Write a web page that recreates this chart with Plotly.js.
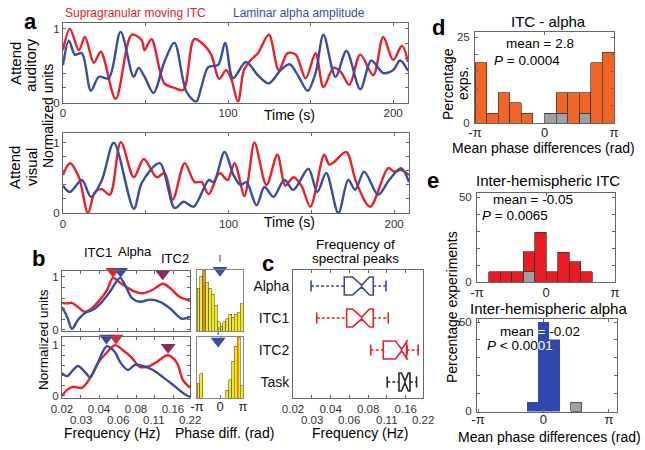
<!DOCTYPE html>
<html><head><meta charset="utf-8">
<script src="https://cdn.plot.ly/plotly-3.0.1.min.js"></script>
<style>html,body{margin:0;padding:0;background:#fff}</style>
</head><body><div id="chart" style="width:645px;height:450px"></div>
<script>
// ---------- Panel a : time series (normalized units) ----------
const aTopRedT = [0,4.2,9.6,13.3,18.7,22.9,31.9,41.6,47.6,49.4,53.6,61.4,67.5,72.9,79.5,85.5,89.8,94.6,98.8,101.8,106.0,109.6,113.9,118.1,124.7,130.7,136.1,141.0,147.0,153.0,157.8,163.9,168.1,173.5,180.1,188.0,194.0,200.0,205.4,209.0];
const aTopRed  = [0.71,1.0,0.71,0.89,0.54,0.69,0.05,0.92,0.85,0.71,0.86,0.26,0.20,0.17,0.86,0.78,0.65,0.32,0.44,0.33,0.01,0.44,0.58,0.67,0.92,0.44,0.67,0.65,0.33,0.67,0.21,0.47,0.42,0.24,0.65,0.37,0.89,0.58,0.77,0.55];
const aTopBlueT = [0,3.6,7.2,11.4,16.9,21.7,27.7,34.9,42.8,45.8,49.4,54.8,61.4,67.5,74.7,80.7,83.7,88.0,94.0,98.2,103.0,110.8,118.1,124.7,131.9,137.3,142.8,148.2,153.0,157.8,165.1,171.7,180.1,186.7,194.0,200.0,204.2,209.0];
const aTopBlue  = [0.51,0.84,0.65,0.67,0.16,0.35,0.33,0.96,0.35,0.47,0.35,0.13,0.55,0.81,0.15,0.01,0.2,0.48,0.51,0.81,0.33,0.55,0.37,0.26,0.44,0.52,0.35,0.16,0.40,0.92,0.35,0.70,0.18,0.57,0.40,0.44,0.57,0.43];
const aBotRedT = [0,4.2,9.6,15.1,19.3,23.5,28.3,34.9,42.8,48.8,56.6,61.4,66.3,73.5,79.5,83.7,88.0,94.6,99.4,103.6,109.6,112.0,115.7,122.9,129.5,134.3,139.2,144.0,149.4,157.8,160.8,163.9,171.1,177.1,185.5,196.4,200.0,204.2,209.0];
const aBotRed  = [0.54,0.71,0.51,0.0,0.30,0.34,0.26,1.01,0.51,0.77,0.51,0.57,0.19,0.71,0.44,0.44,0.27,0.57,0.47,0.71,0.24,0.50,1.0,0.40,0.83,0.39,0.51,0.39,0.09,0.83,0.69,0.73,0.87,0.44,0.09,0.64,0.59,0.61,0.54];
const aBotBlueT = [0,4.2,11.4,16.9,23.5,30.7,42.8,47.6,58.4,67.5,72.9,78.9,88.0,91.0,97.6,103.0,107.2,110.8,116.9,121.7,127.1,133.7,139.2,148.2,153.6,159.0,166.3,172.3,176.5,181.9,190.4,197.0,204.2,209.0];
const aBotBlue  = [0.39,0.30,0.47,0.23,0.47,1.0,0.06,0.43,0.71,0.07,0.16,0.09,0.47,0.44,0.87,0.54,0.40,0.44,0.11,0.37,0.23,0.47,0.33,0.63,0.30,0.57,0.0,0.47,0.33,0.59,0.26,0.47,0.64,0.44];
const aTimeTicks = [0,50,100,150,200];
const aTimeLabels = ['0','','100','','200'];

// ---------- Panel b : spectra ----------
const bTopRedF = [0.0200,0.0220,0.0241,0.0270,0.0308,0.0351,0.0407,0.0465,0.0520,0.0593,0.0689,0.0783,0.0912,0.1079,0.1324,0.1510,0.1820,0.2198];
const bTopRed  = [0.51,0.50,0.51,0.43,0.34,0.41,0.57,0.75,0.98,0.89,0.79,0.72,0.69,0.75,0.87,0.79,0.62,0.55];
const bTopBlueF = [0.0200,0.0220,0.0241,0.0270,0.0308,0.0357,0.0423,0.0491,0.0593,0.0650,0.0741,0.0861,0.1038,0.1253,0.1510,0.1892,0.2198];
const bTopBlue  = [0.43,0.25,0.02,0.19,0.32,0.38,0.53,0.72,0.98,0.85,0.60,0.53,0.57,0.53,0.41,0.21,0.25];
const bBotRedF = [0.0200,0.0220,0.0246,0.0291,0.0338,0.0393,0.0465,0.0540,0.0627,0.0741,0.0861,0.1038,0.1183,0.1455,0.1722,0.1928,0.2198];
const bBotRed  = [0.0,0.12,0.18,0.16,0.35,0.65,0.86,1.0,0.90,0.75,0.57,0.59,0.67,0.80,0.65,0.31,0.16];
const bBotBlueF = [0.0200,0.0220,0.0246,0.0270,0.0308,0.0338,0.0385,0.0423,0.0465,0.0540,0.0593,0.0689,0.0783,0.0912,0.1099,0.1324,0.1596,0.1928,0.2198];
const bBotBlue  = [0.45,0.39,0.51,0.59,0.47,0.37,0.61,0.84,0.98,0.86,0.67,0.51,0.61,0.59,0.51,0.37,0.22,0.06,-0.02];
const peakNames = ['ITC1','Alpha','ITC2'];
const bTopPeaks = [0.052, 0.060, 0.132];
const bTopPeakY = [1.105, 1.105, 1.06];
const bBotPeaks = [0.055, 0.046, 0.146];
const bBotPeakY = [1.14, 1.14, 0.96];
const freqTicks = [0.02,0.0283,0.04,0.0566,0.08,0.113,0.16,0.22];
const freqRow1 = ['0.02','','0.04','','0.08','','0.16',''];
const freqRow2 = ['','0.03','','0.06','','0.11','','0.22'];

// ---------- Panel b : phase-difference histograms (16 bins, -pi..pi) ----------
const bHistTop = [14,18,20,16,14,12,8.5,3,1.5,3,4,5.5,4.5,5.5,6,9];
const bHistBot = [4.6,8,0,0,0,0,0,0,0,0,2.6,6,12,17,20,4];
const bHistTopMean = -2.19, bHistBotMean = 2.42;
const bHistTopArrow = 0.0, bHistBotArrow = -0.25;
const bHistTopArrowY = 19.9, bHistBotArrowY = 18.7;

// ---------- Panel c : box plots of spectral peak frequency ----------
const cCats = ['Alpha','ITC1','ITC2','Task'];
const cLow  = [0.0279,0.0310,0.0838,0.1138];
const cQ1   = [0.0515,0.0538,0.1057,0.1413];
const cMed  = [0.0710,0.0710,0.1483,0.1578];
const cQ3   = [0.0879,0.0879,0.1626,0.1730];
const cHigh = [0.1112,0.1159,0.2013,0.1954];
const cNotch= [0.011,0.011,0.016,0.010];

// ---------- Panel d : ITC - alpha (12 bins) ----------
const dSig  = [17.6,2.9,8.8,5.9,2.9,0,0,5.9,8.8,5.9,17.6,20.6];
const dNS   = [0,0,0,0,0,0,2.9,2.9,0,2.9,0,0];
// ---------- Panel e ----------
const eItcSig = [0,5.9,5.9,5.9,11.8,29.4,5.9,17.6,11.8,5.9,0,0];
const eItcNS  = [0,0,0,0,5.9,0,0,0,0,0,0,0];
const eAlphaX = [-Math.PI/6, 0, Math.PI/6];
const eAlpha  = [5, 50, 40];
const eAlphaNSX = [Math.PI/2];
const eAlphaNS  = [5];

// ---------- helpers ----------
const W = 645, H = 450;
const px = x => x / W, py = y => 1 - y / H;
const F = 'Arial, "Liberation Sans", sans-serif';
const RED = 'rgb(234,32,40)', BLUE = 'rgb(56,76,164)', PURPLE = 'rgb(140,40,92)';
const ORANGE = 'rgb(241,101,38)', GREY = 'rgb(160,160,160)';
const PI = Math.PI;
const bins12 = n => Array.from({length:n}, (_, i) => -PI + (2*PI/n)*(i + 0.5));

const traces = [];
function line(x, y, ax, color, w) {
  traces.push({x, y, xaxis:'x'+ax, yaxis:'y'+ax, type:'scatter', mode:'lines',
    line:{color, width:w||2.4, shape:'spline', smoothing:0.9}, hoverinfo:'skip'});
}
// a
line(aTopRedT, aTopRed, '', RED); line(aTopBlueT, aTopBlue, '', BLUE);
line(aBotRedT, aBotRed, '2', RED); line(aBotBlueT, aBotBlue, '2', BLUE);
// b spectra
line(bTopRedF, bTopRed, '3', RED); line(bTopBlueF, bTopBlue, '3', BLUE);
line(bBotRedF, bBotRed, '4', RED); line(bBotBlueF, bBotBlue, '4', BLUE);
const peakCols = [RED, BLUE, PURPLE];
traces.push({x:bTopPeaks, y:bTopPeakY, xaxis:'x3', yaxis:'y3', type:'scatter', mode:'markers',
  marker:{symbol:'triangle-down', size:13, color:peakCols}, cliponaxis:false, hoverinfo:'skip'});
traces.push({x:bBotPeaks, y:bBotPeakY, xaxis:'x4', yaxis:'y4', type:'scatter', mode:'markers',
  marker:{symbol:'triangle-down', size:13, color:peakCols}, cliponaxis:false, hoverinfo:'skip'});
// b histograms
const hb = bins12(16);
traces.push({x:hb, y:bHistTop, xaxis:'x5', yaxis:'y5', type:'bar', width:2*PI/16,
  marker:{color:'rgb(244,234,20)', line:{color:'#555', width:0.6}}, hoverinfo:'skip'});
traces.push({x:hb, y:bHistBot, xaxis:'x6', yaxis:'y6', type:'bar', width:2*PI/16,
  marker:{color:'rgb(244,234,20)', line:{color:'#555', width:0.6}}, hoverinfo:'skip'});
traces.push({x:[bHistTopMean,bHistTopMean], y:[0,20], xaxis:'x5', yaxis:'y5', mode:'lines', line:{color:'rgb(235,110,30)', width:1.6}, hoverinfo:'skip'});
traces.push({x:[bHistBotMean,bHistBotMean], y:[0,20], xaxis:'x6', yaxis:'y6', mode:'lines', line:{color:'rgb(235,110,30)', width:1.6}, hoverinfo:'skip'});
traces.push({x:[bHistTopArrow], y:[bHistTopArrowY], xaxis:'x5', yaxis:'y5', mode:'markers', cliponaxis:false,
  marker:{symbol:'triangle-down', size:13, color:BLUE}, hoverinfo:'skip'});
traces.push({x:[bHistBotArrow], y:[bHistBotArrowY], xaxis:'x6', yaxis:'y6', mode:'markers', cliponaxis:false,
  marker:{symbol:'triangle-down', size:13, color:BLUE}, hoverinfo:'skip'});
// c boxes
const cCols = [BLUE, RED, RED, 'rgb(40,40,40)'];
cCats.forEach((c, i) => {
  traces.push({type:'box', orientation:'h', y:[c], q1:[cQ1[i]], median:[cMed[i]], q3:[cQ3[i]],
    lowerfence:[cQ1[i]], upperfence:[cQ3[i]], notched:true, notchspan:[cNotch[i]], notchwidth:0.45,
    width:0.56, boxpoints:false, fillcolor:'rgba(0,0,0,0)', line:{color:cCols[i], width:1.6},
    xaxis:'x7', yaxis:'y7', hoverinfo:'skip'});
  traces.push({type:'scatter', mode:'lines', x:[cLow[i], cQ1[i], null, cQ3[i], cHigh[i]], y:[c,c,null,c,c],
    line:{color:cCols[i], width:1.5, dash:'3px,2px'}, xaxis:'x7', yaxis:'y7', hoverinfo:'skip'});
  traces.push({type:'scatter', mode:'markers', x:[cLow[i], cHigh[i]], y:[c,c],
    marker:{symbol:'line-ns-open', size:8, color:cCols[i], line:{color:cCols[i], width:1.6}},
    xaxis:'x7', yaxis:'y7', hoverinfo:'skip'});
});
// d
const b12 = bins12(12);
const barLine = {color:'#333', width:0.7};
traces.push({type:'bar', x:b12, y:dNS, width:2*PI/12, marker:{color:GREY, line:barLine}, xaxis:'x8', yaxis:'y8', hoverinfo:'skip'});
traces.push({type:'bar', x:b12, y:dSig, width:2*PI/12, marker:{color:ORANGE, line:barLine}, xaxis:'x8', yaxis:'y8', hoverinfo:'skip'});
// e
traces.push({type:'bar', x:b12, y:eItcNS, width:2*PI/12, marker:{color:GREY, line:barLine}, xaxis:'x9', yaxis:'y9', hoverinfo:'skip'});
traces.push({type:'bar', x:b12, y:eItcSig, width:2*PI/12, marker:{color:'rgb(232,28,36)', line:barLine}, xaxis:'x9', yaxis:'y9', hoverinfo:'skip'});
traces.push({type:'bar', x:eAlphaX, y:eAlpha, width:2*PI/12, marker:{color:'rgb(50,72,172)', line:{color:'rgb(50,72,172)', width:0.5}}, xaxis:'x10', yaxis:'y10', hoverinfo:'skip'});
traces.push({type:'bar', x:eAlphaNSX, y:eAlphaNS, width:2*PI/12, marker:{color:GREY, line:barLine}, xaxis:'x10', yaxis:'y10', hoverinfo:'skip'});

// ---------- axes ----------
const base = {showline:true, linecolor:'#666', linewidth:1, mirror:'ticks', ticks:'inside', ticklen:3,
  tickcolor:'#666', zeroline:false, showgrid:false, fixedrange:true,
  tickfont:{family:F, size:11.5, color:'#333'}};
const ax = (o) => Object.assign({}, base, o);
const dom = (a, b) => [a / W, b / W];
const vdom = (top, bot) => [py(bot), py(top)];
const piTicks = {tickvals:[-PI,0,PI], ticktext:['-π','0','π'], tickfont:{family:F, size:13, color:'#222'}};
const logR = [Math.log10(0.02), Math.log10(0.22)];

const layout = {
  width:W, height:H, margin:{l:0,r:0,t:0,b:0}, showlegend:false, barmode:'stack', bargap:0,
  paper_bgcolor:'#fff', plot_bgcolor:'#fff', font:{family:F, color:'#000'},
  xaxis:  ax({domain:dom(63,408), anchor:'y', range:[0,209], tickvals:aTimeTicks, ticktext:aTimeLabels}),
  yaxis:  ax({domain:vdom(23,102.5), anchor:'x', range:[0,1.08], tickvals:[0,0.2,0.4,0.6,0.8,1], ticktext:['0','','','','','1']}),
  xaxis2: ax({domain:dom(63,409), anchor:'y2', range:[0,209], tickvals:aTimeTicks, ticktext:aTimeLabels}),
  yaxis2: ax({domain:vdom(133,213), anchor:'x2', range:[0,1.14], tickvals:[0,0.2,0.4,0.6,0.8,1], ticktext:['0','','','','','1']}),
  xaxis3: ax({domain:dom(62,190), anchor:'y3', type:'log', range:logR, tickvals:freqTicks, showticklabels:false}),
  yaxis3: ax({domain:vdom(271,331), anchor:'x3', range:[-0.02,1.11], tickvals:[0,0.2,0.4,0.6,0.8,1], ticktext:['0','','','','','1']}),
  xaxis4: ax({domain:dom(62,190), anchor:'y4', type:'log', range:logR, tickvals:freqTicks, ticktext:freqRow1}),
  yaxis4: ax({domain:vdom(337,398), anchor:'x4', range:[-0.04,1.16], tickvals:[0,0.2,0.4,0.6,0.8,1], ticktext:['0','','','','','1']}),
  xaxis5: ax({domain:dom(197,243), anchor:'y5', range:[-PI,PI], tickvals:[-PI,0,PI], showticklabels:false, linecolor:'#888'}),
  yaxis5: ax({domain:vdom(270,331), anchor:'x5', range:[0,20], showticklabels:false, ticks:'', linecolor:'#888'}),
  xaxis6: ax(Object.assign({domain:dom(197,243), anchor:'y6', range:[-PI,PI], linecolor:'#888', ticklabelstandoff:-4}, piTicks)),
  yaxis6: ax({domain:vdom(337,398), anchor:'x6', range:[0,20], showticklabels:false, ticks:'', linecolor:'#888'}),
  xaxis7: ax({domain:dom(293,423), anchor:'y7', type:'log', range:logR, tickvals:freqTicks, ticktext:freqRow1}),
  yaxis7: ax({domain:vdom(270,398), anchor:'x7', type:'category', categoryarray:['Task','ITC2','ITC1','Alpha'], categoryorder:'array',
             range:[-0.5,3.5], ticks:'', tickfont:{family:F, size:14, color:'#111'}}),
  xaxis8: ax(Object.assign({domain:dom(475,614), anchor:'y8', range:[-PI,PI], ticklabelstandoff:-3}, piTicks)),
  yaxis8: ax({domain:vdom(32,123), anchor:'x8', range:[0,26.5], tickvals:[0,5,10,15,20,25], ticktext:['0','','','','','25'], ticklabelstandoff:2}),
  xaxis9: ax(Object.assign({domain:dom(477,615), anchor:'y9', range:[-PI,PI], ticklabelstandoff:-2}, piTicks)),
  yaxis9: ax({domain:vdom(193,282), anchor:'x9', range:[0,52.4], tickvals:[0,10,20,30,40,50], ticktext:['0','','','','','50'], ticklabelstandoff:2}),
  xaxis10: ax(Object.assign({domain:dom(477,617), anchor:'y10', range:[-3.19,3.53], ticklabelstandoff:-5}, piTicks)),
  yaxis10: ax({domain:vdom(319,412), anchor:'x10', range:[-0.5,51.7], tickvals:[0,10,20,30,40,50], ticktext:['0','','','','','50'], ticklabelstandoff:2}),
  annotations: [], shapes: []
};

function T(text, x, y, o) {
  layout.annotations.push(Object.assign({text, x:px(x), y:py(y), xref:'paper', yref:'paper', showarrow:false,
    xanchor:'center', yanchor:'middle', font:{family:F, size:14, color:'#000'}}, o || {}));
}
const bold = s => '<b>' + s + '</b>';
// panel letters
T(bold('a'), 30, 22, {font:{family:F, size:22}});
T(bold('b'), 38, 258, {font:{family:F, size:22}});
T(bold('c'), 268, 263, {font:{family:F, size:22}});
T(bold('d'), 438, 27, {font:{family:F, size:22}});
T(bold('e'), 433, 180, {font:{family:F, size:22}});
// a
T('Supragranular moving ITC', 135, 13, {font:{family:F, size:12, color:RED}});
T('Laminar alpha amplitude', 299, 13, {font:{family:F, size:12, color:BLUE}});
T('Attend', 15, 64, {textangle:-90, font:{family:F, size:15}});
T('auditory', 31, 65, {textangle:-90, font:{family:F, size:15}});
T('Attend', 15, 168, {textangle:-90, font:{family:F, size:15}});
T('visual', 31, 167, {textangle:-90, font:{family:F, size:15}});
T('Normalized units', 48, 116, {textangle:-90, font:{family:F, size:14}});
T('Time (s)', 289, 115, {font:{family:F, size:14}});
T('Time (s)', 289, 222, {font:{family:F, size:14}});
// b
T('ITC1', 98, 253, {font:{family:F, size:13}});
T('Alpha', 135, 251, {font:{family:F, size:13}});
T('ITC2', 175, 258, {font:{family:F, size:13}});
T('Normalized units', 43, 340, {textangle:-90, font:{family:F, size:13.5}});
T('Frequency (Hz)', 112, 433, {font:{family:F, size:14}});
T('Phase diff. (rad)', 224, 433, {font:{family:F, size:14}});
// second row of frequency tick labels (b and c)
freqTicks.forEach((f, i) => {
  if (!freqRow2[i]) return;
  ['x4','x7'].forEach(xr => layout.annotations.push({text:freqRow2[i], x:Math.log10(f), xref:xr, y:py(420), yref:'paper',
    showarrow:false, xanchor:'center', yanchor:'middle', font:{family:F, size:11.5, color:'#333'}}));
});
// c
T('Frequency of', 355, 244, {font:{family:F, size:13.5}});
T('spectral peaks', 355, 258, {font:{family:F, size:13.5}});
T('Frequency (Hz)', 360, 433, {font:{family:F, size:14}});
// d
T('ITC - alpha', 548, 22, {font:{family:F, size:15}});
T('Percentage', 448, 84, {textangle:-90, font:{family:F, size:14}});
T('exps.', 463, 84, {textangle:-90, font:{family:F, size:14}});
T('mean = 2.8', 540, 43, {font:{family:F, size:13.5}});
T('<i>P</i> = 0.0004', 527, 61, {font:{family:F, size:13.5}});
T('Mean phase differences (rad)', 543, 148, {font:{family:F, size:14}});
// e
T('Inter-hemispheric ITC', 548, 180, {font:{family:F, size:15}});
T('mean = -0.05', 533, 199, {font:{family:F, size:13.5}});
T('<i>P</i> = 0.0065', 515, 215, {font:{family:F, size:13.5}});
T('Percentage experiments', 452, 307, {textangle:-90, font:{family:F, size:14}});
T('Inter-hemispheric alpha', 548, 308, {font:{family:F, size:15}});
T('mean <span style="color:white">=</span> -0.02', 540, 331, {font:{family:F, size:13.5}});
T('<i>P</i> &lt; 0.00<span style="color:white">01</span>', 520, 345, {font:{family:F, size:13.5}});
T('Mean phase differences (rad)', 549, 437, {font:{family:F, size:14}});

// thin lines above the peak arrows (b)
const lineCols = ['rgb(240,140,140)','rgb(110,130,205)','rgb(175,105,135)'];
const topLines = [[257,264],[248,263],[255,268]];
const botLines = [[324,331],[323,332],[337,342]];
bTopPeaks.forEach((f, i) => layout.shapes.push({type:'line', xref:'x3', yref:'paper', x0:Math.log10(f), x1:Math.log10(f),
  y0:py(topLines[i][0]), y1:py(topLines[i][1]), line:{color:lineCols[i], width:1.5}}));
bBotPeaks.forEach((f, i) => layout.shapes.push({type:'line', xref:'x4', yref:'paper', x0:Math.log10(f), x1:Math.log10(f),
  y0:py(botLines[i][0]), y1:py(botLines[i][1]), line:{color:lineCols[i], width:1.5}}));
layout.shapes.push({type:'line', xref:'x5', yref:'paper', x0:bHistTopArrow, x1:bHistTopArrow, y0:py(255), y1:py(262), line:{color:lineCols[1], width:1.5}});
layout.shapes.push({type:'line', xref:'x6', yref:'paper', x0:bHistBotArrow, x1:bHistBotArrow, y0:py(327), y1:py(335), line:{color:lineCols[1], width:1.5}});

Plotly.newPlot('chart', traces, layout, {displayModeBar:false, staticPlot:true});
</script></body></html>
